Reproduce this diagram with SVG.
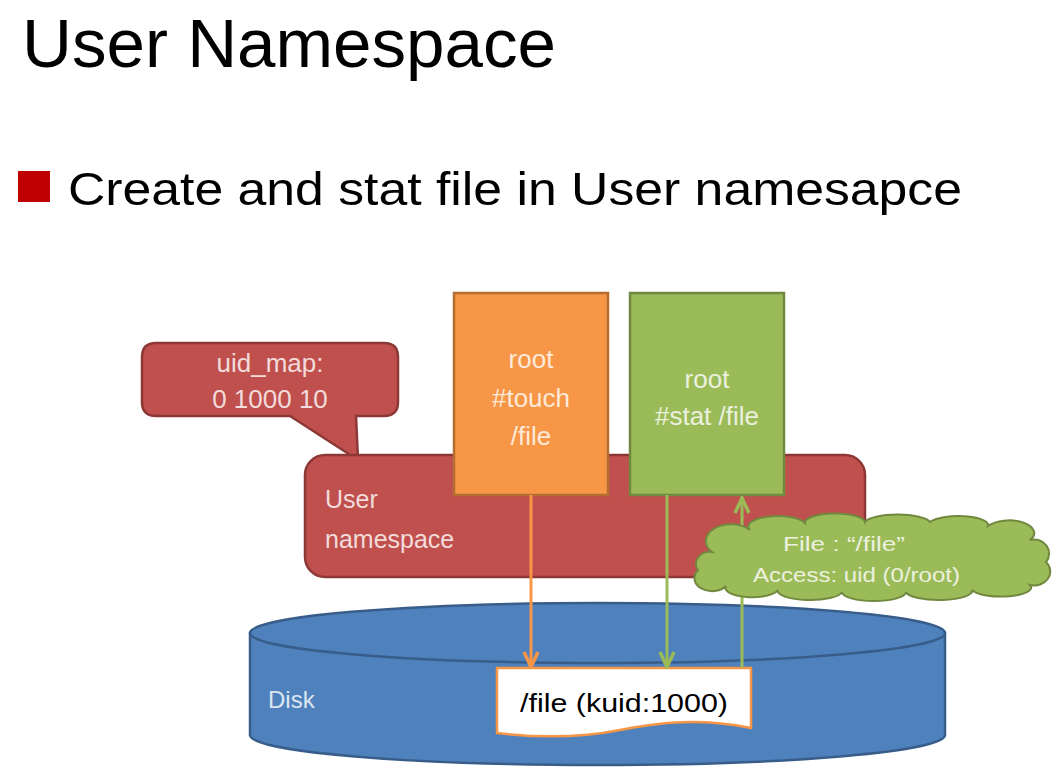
<svg xmlns="http://www.w3.org/2000/svg" width="1060" height="777" viewBox="0 0 1060 777">
<defs>
<style>
text{font-family:"Liberation Sans",Arial,sans-serif}
.title{font-size:69px;fill:#000}
.bullet{font-size:47px;fill:#000}
.lbl{font-size:26px;text-anchor:middle}
.red{fill:#C0504D;stroke:#8C3836;stroke-width:2.5}
.conn{fill:none;stroke-width:3}
</style>
<marker id="ao" viewBox="0 0 18 18" refX="17" refY="9" markerWidth="18" markerHeight="18" markerUnits="userSpaceOnUse" orient="auto">
<path d="M1 2 L16 9 L1 16" fill="none" stroke="#F79646" stroke-width="3.5"/>
</marker>
<marker id="ag" viewBox="0 0 18 18" refX="17" refY="9" markerWidth="18" markerHeight="18" markerUnits="userSpaceOnUse" orient="auto">
<path d="M1 2 L16 9 L1 16" fill="none" stroke="#9BBB59" stroke-width="3.5"/>
</marker>
</defs>
<rect width="1060" height="777" fill="#fff"/>
<text class="title" x="22" y="67" textLength="534" lengthAdjust="spacingAndGlyphs">User Namespace</text>
<rect x="18" y="171" width="32" height="31" fill="#C00000"/>
<text class="bullet" x="68" y="205" textLength="894" lengthAdjust="spacingAndGlyphs">Create and stat file in User namesapce</text>

<g id="disk">
<path d="M250 633 L250 735 A347.5 30 0 0 0 945 735 L945 633 Z" fill="#4F81BD" stroke="#385D8A" stroke-width="2.5"/>
<ellipse cx="597.5" cy="633" rx="347.5" ry="30" fill="#4F81BD" stroke="#385D8A" stroke-width="2.5"/>
<text x="268" y="708" font-size="24" fill="#DCE6F2">Disk</text>
</g>

<g id="uid-map">
<path class="red" d="M156 343 H384 Q398 343 398 357 V402 Q398 416 384 416 H356 L358 460 L290 416 H156 Q142 416 142 402 V357 Q142 343 156 343 Z"/>
<text class="lbl" x="270" y="372" font-size="24" fill="#F2DCDB">uid_map:</text>
<text class="lbl" x="270" y="408" font-size="24" fill="#F2DCDB">0 1000 10</text>
</g>

<g id="user-namespace">
<rect class="red" x="305" y="455" width="560" height="122" rx="20"/>
<text x="325" y="508" font-size="25" fill="#F2DCDB">User</text>
<text x="325" y="548" font-size="25" fill="#F2DCDB">namespace</text>
</g>

<g id="touch">
<rect x="454" y="293" width="154" height="202" fill="#F79646" stroke="#B66D31" stroke-width="2.5"/>
<text class="lbl" x="531" y="368" font-size="27" fill="#FDEADA">root</text>
<text class="lbl" x="531" y="407" font-size="27" fill="#FDEADA">#touch</text>
<text class="lbl" x="531" y="445" font-size="27" fill="#FDEADA">/file</text>
</g>

<g id="stat">
<rect x="630" y="293" width="154" height="202" fill="#9BBB59" stroke="#71893F" stroke-width="2.5"/>
<text class="lbl" x="707" y="388" font-size="27" fill="#EBF1DE">root</text>
<text class="lbl" x="707" y="425" font-size="27" fill="#EBF1DE">#stat /file</text>
</g>

<g id="file">
<path d="M497 668 H751 V728 C700 718 660 722 620 730 C580 738 540 738 497 733 Z" fill="#fff" stroke="#F79646" stroke-width="2.5"/>
<text class="lbl" x="624" y="712" font-size="28" fill="#000" textLength="208" lengthAdjust="spacingAndGlyphs">/file (kuid:1000)</text>
</g>

<g id="connectors">
<line class="conn" x1="531" y1="495" x2="531" y2="668" stroke="#F79646" marker-end="url(#ao)"/>
<line class="conn" x1="667" y1="495" x2="667" y2="668" stroke="#9BBB59" marker-end="url(#ag)"/>
<line class="conn" x1="742" y1="668" x2="742" y2="497" stroke="#9BBB59" marker-end="url(#ag)"/>
</g>

<g id="cloud">
<path d="M712 552 A24 16 0 0 1 750 530 A28 10 0 0 1 805 523 A30 9 0 0 1 865 522 A33 9 0 0 1 930 522 A30 9 0 0 1 988 526 A24 12 0 0 1 1030 540 A15 14 0 0 1 1046 562 A16 14 0 0 1 1030 585 A30 9 0 0 1 972 590 A33 9 0 0 1 906 592 A32 9 0 0 1 842 592 A32 9 0 0 1 778 590 A26 9 0 0 1 726 586 A16 12 0 0 1 698 570 A14 12 0 0 1 712 552 Z" fill="#9BBB59" stroke="#71893F" stroke-width="2"/>
<text x="783" y="551" font-size="20" fill="#EBF1DE" textLength="122" lengthAdjust="spacingAndGlyphs">File :  “/file”</text>
<text x="753" y="582" font-size="20" fill="#EBF1DE" textLength="207" lengthAdjust="spacingAndGlyphs">Access:  uid (0/root)</text>
</g>
</svg>
